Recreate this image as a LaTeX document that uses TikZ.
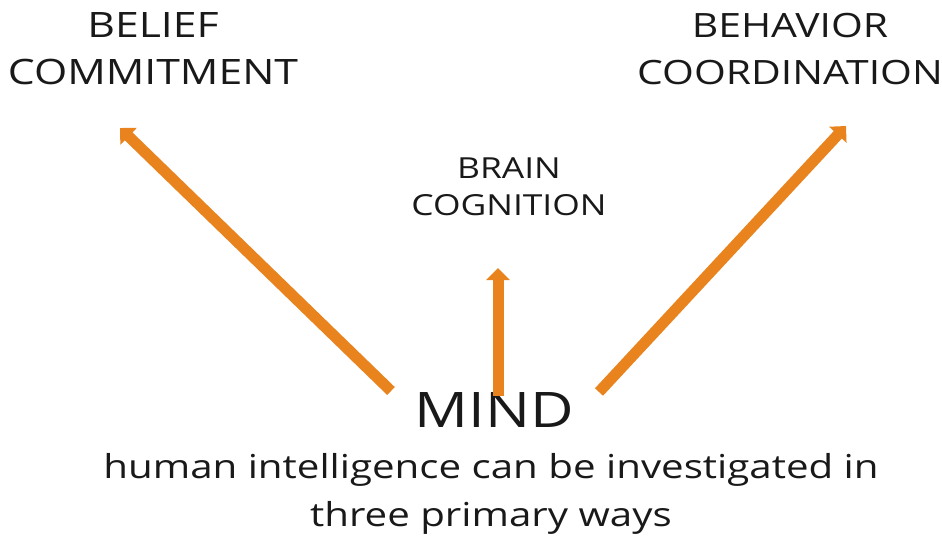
\documentclass[tikz,border=0pt]{standalone}
\usepackage{fontspec}
\setmainfont[FakeStretch=1.22]{Open Sans}
\usetikzlibrary{arrows.meta}
\definecolor{arrorange}{HTML}{E8831E}
\begin{document}
\begin{tikzpicture}[x=1pt,y=-1pt,
  lbl/.style={align=center,font=\fontsize{35}{47}\selectfont,inner sep=0pt,text=black!90},
  bigarrow/.style={draw=arrorange,line width=11pt,-{Triangle[width=23pt,length=12pt]}}]
\useasboundingbox (0,0) rectangle (942,540);
\node[lbl] (belief) at (153,49) {BELIEF\\COMMITMENT};
\node[lbl,font=\fontsize{33.5}{47}\selectfont] (behav) at (790,49) {BEHAVIOR\\COORDINATION};
\node[lbl,font=\fontsize{29}{37}\selectfont] (brain) at (509,187) {BRAIN\\COGNITION};
\node[inner sep=0pt,font=\fontsize{49}{50}\selectfont,text=black!90] (mind) at (494,410) {MIND};
\node[lbl,font=\fontsize{33}{48}\selectfont] (desc) at (491,494) {human intelligence can be investigated in\\three primary ways};
\coordinate (ls) at (391,391);
\coordinate (lt) at (120,128);
\coordinate (ms) at (498,396);
\coordinate (mt) at (498,268);
\coordinate (rs) at (599,392);
\coordinate (rt) at (846,126);
\draw[bigarrow] (ls) -- (lt);
\draw[bigarrow] (ms) -- (mt);
\draw[bigarrow] (rs) -- (rt);
\end{tikzpicture}
\end{document}
